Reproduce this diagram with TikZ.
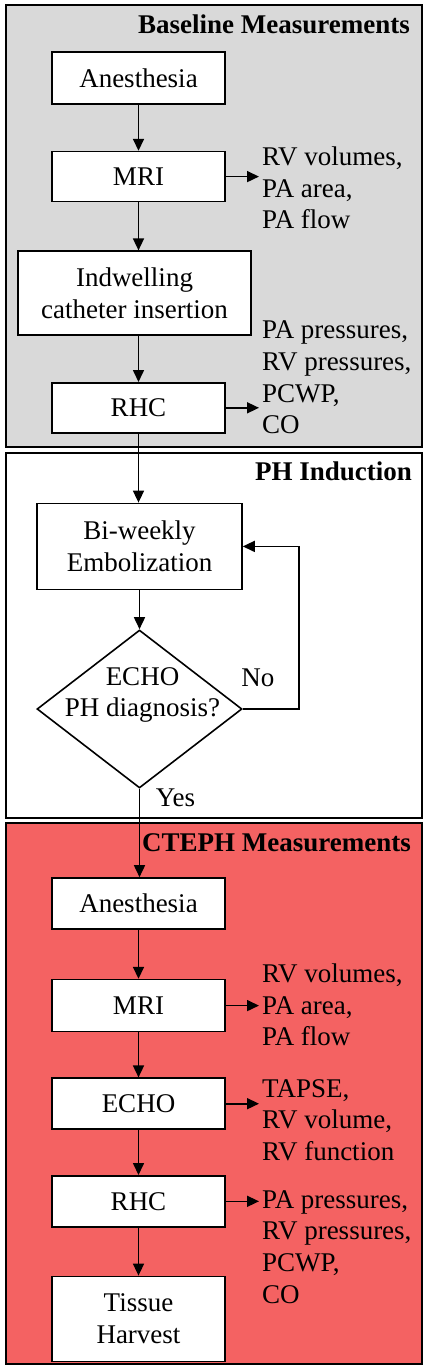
\documentclass[tikz,border=0pt]{standalone}
\usepackage{fontspec}
\setmainfont{Liberation Serif}
\usepackage{xcolor}
\usepackage{tikz}
\usetikzlibrary{calc}
\usetikzlibrary{positioning}
\usetikzlibrary{shapes.geometric}
\usetikzlibrary{arrows.meta}
\definecolor{basegray}{HTML}{D9D9D9}
\definecolor{ctephred}{HTML}{F46262}
\newcommand{\flowfont}{\fontsize{27}{31.7}\selectfont}
\tikzstyle{stage} = [draw=black, line width=2pt, rectangle, anchor=north west,
minimum width=416pt, inner sep=0pt]
\tikzstyle{stagetitle} = [anchor=base east, inner sep=0pt, font=\flowfont\bfseries]
\tikzstyle{stepbox} = [draw=black, fill=white, line width=1.6pt, rectangle,
inner sep=0pt, align=center, minimum width=173pt, minimum height=51pt]
\tikzstyle{decision} = [draw=black, fill=white, line width=1.6pt, diamond,
inner sep=0pt, minimum width=205pt, minimum height=158pt]
\tikzstyle{result} = [anchor=west, inner sep=0pt, align=left]
\tikzstyle{arr} = [line width=1.6pt, -{Triangle[length=12pt,width=11pt]}]

\begin{document}
\begin{tikzpicture}[x=1pt, y=-1pt, font=\flowfont]
        \useasboundingbox (0,0) rectangle (425,1368);
        \node[stage, fill=basegray, minimum height=442pt] (base) at (5,4) {};
        \node[stage, fill=white, minimum height=365pt] (induct) at (5,452) {};
        \node[stage, fill=ctephred, minimum height=541pt] (cteph) at (5,822) {};
        \node[stagetitle] (basetitle) at ($(base.north east)+(-13,29)$) {Baseline Measurements};
        \node[stagetitle] (inducttitle) at ($(induct.north east)+(-11,28)$) {PH Induction};
        \node[stagetitle] (ctephtitle) at ($(cteph.north east)+(-12,29)$) {CTEPH Measurements};

        \node[stepbox, minimum height=52pt] (anes1) at (138.5,78) {Anesthesia};
        \node[stepbox, below=46pt of anes1, minimum height=50pt] (mri1) {MRI};
        \node[stepbox, below=48pt of mri1, xshift=-4pt, minimum width=233pt, minimum height=84pt] (cath) {Indwelling\\catheter insertion};
        \node[stepbox, below=46pt of cath, xshift=4pt, minimum height=50pt] (rhc1) {RHC};
        \node[result] (mri1res) at (262,188) {RV volumes,\\PA area,\\PA flow};
        \node[result] (rhc1res) at (262,377.5) {PA pressures,\\RV pressures,\\PCWP,\\CO};

        \node[stepbox, below=69pt of rhc1, xshift=1pt, minimum width=205pt, minimum height=86pt] (emb) {Bi-weekly\\Embolization};
        \node[decision, below=39pt of emb, label={[align=center, xshift=3pt, yshift=14pt]center:ECHO\\PH diagnosis?}] (diag) {};
        \node (nolbl) at ($(diag.east)+(15,-31)$) {No};
        \node (yeslbl) at ($(diag.south)+(36,9)$) {Yes};

        \node[stepbox] (anes2) at (138.5,903.5) {Anesthesia};
        \node[stepbox, below=49pt of anes2, minimum height=52pt] (mri2) {MRI};
        \node[stepbox, below=45pt of mri2] (echo2) {ECHO};
        \node[stepbox, below=45pt of echo2] (rhc2) {RHC};
        \node[stepbox, below=48pt of rhc2, minimum height=85pt] (harv) {Tissue\\Harvest};
        \node[result] (mri2res) at (262,1005) {RV volumes,\\PA area,\\PA flow};
        \node[result] (echo2res) at (262,1120) {TAPSE,\\RV volume,\\RV function};
        \node[result] (rhc2res) at (262,1247) {PA pressures,\\RV pressures,\\PCWP,\\CO};

        \draw[arr] (anes1) -- (mri1);
        \draw[arr] (mri1.south) -- (mri1.south |- cath.north);
        \draw[arr] (cath.south -| rhc1.north) -- (rhc1.north);
        \draw[arr] (rhc1.south) -- (rhc1.south |- emb.north);
        \draw[arr] (emb.south) -- (diag.north);
        \draw[arr] (diag.east) -- ++(56,0) |- (emb.east);
        \draw[arr] (diag.south) -- (diag.south |- anes2.north);
        \draw[arr] (anes2) -- (mri2);
        \draw[arr] (mri2) -- (echo2);
        \draw[arr] (echo2) -- (rhc2);
        \draw[arr] (rhc2) -- (harv);

        \draw[arr, shorten >=3pt] (mri1.east) -- (mri1.east -| mri1res.west);
        \draw[arr, shorten >=3pt] (rhc1.east) -- (rhc1.east -| rhc1res.west);
        \draw[arr, shorten >=3pt] (mri2.east) -- (mri2.east -| mri2res.west);
        \draw[arr, shorten >=3pt] (echo2.east) -- (echo2.east -| echo2res.west);
        \draw[arr, shorten >=3pt] (rhc2.east) -- (rhc2.east -| rhc2res.west);
\end{tikzpicture}
\end{document}
